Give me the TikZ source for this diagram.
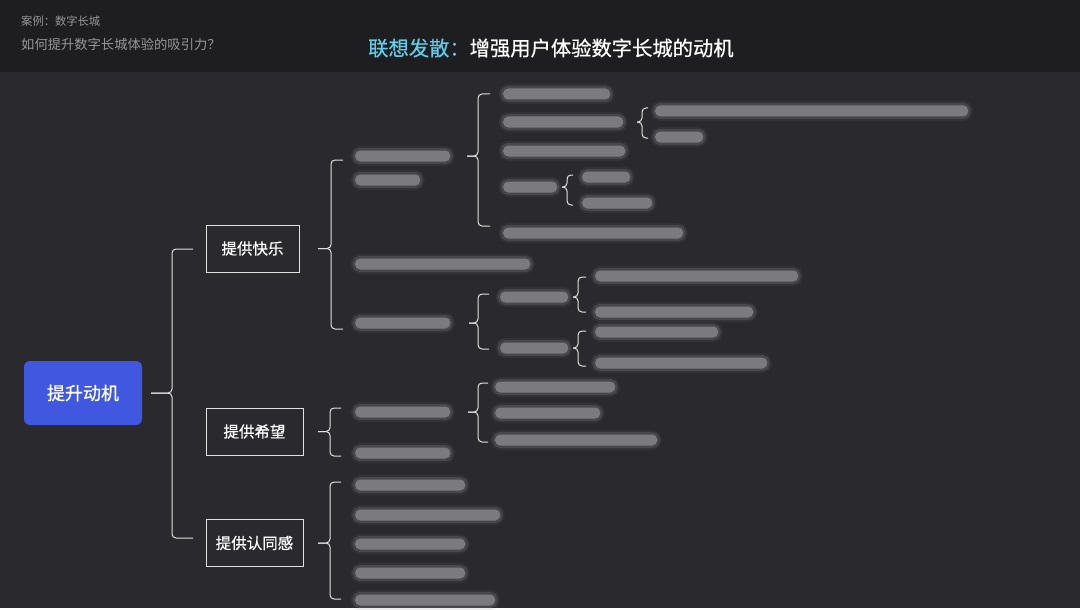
\documentclass[tikz,border=0pt]{standalone}
\usepackage{fontspec}
\setmainfont{Noto Sans CJK SC}
\newfontfamily\medfont[FakeBold=0.5]{Noto Sans CJK SC}
\usepackage{xcolor}
\usepackage{tikz}
\usetikzlibrary{calc}
\definecolor{pagebg}{RGB}{42, 42, 46}
\definecolor{headbg}{RGB}{30, 30, 33}
\definecolor{motivblue}{RGB}{64, 88, 224}
\definecolor{titlecyan}{RGB}{96, 204, 232}
\definecolor{blurgray}{RGB}{122, 122, 127}
\definecolor{subgray}{RGB}{150, 150, 152}

\tikzset{
    bracket/.style={draw=white!88!black, line width=1pt, rounded corners=4pt},
    branchbox/.style={draw=white!88!black, line width=1pt, text=white, minimum height=47pt,
        font=\medfont\fontsize{15.5}{18}\selectfont, inner sep=0pt},
    rootbox/.style={fill=motivblue, rounded corners=6pt, text=white, minimum width=118pt,
        minimum height=64pt, font=\medfont\fontsize{18}{22}\selectfont},
    blurbar/.style={fill=blurgray, rounded corners=5pt, minimum height=11pt, inner sep=0pt,
        anchor=west,
        preaction={draw=blurgray, draw opacity=0.12, line width=9pt, rounded corners=6pt},
        preaction={draw=blurgray, draw opacity=0.3, line width=5pt, rounded corners=6pt}}
}

% brace from a parent node: parent, tip x, bar x, top y, bottom y, right x
\newcommand{\mbrace}[6]{%
    \coordinate (bx) at (#2,0);
    \draw[bracket] (#6,#4) -- (#3,#4) |- (bx |- #1.east);
    \draw[bracket] (#6,#5) -- (#3,#5) |- (bx |- #1.east);
}

\begin{document}
\begin{tikzpicture}[x=1pt, y=-1pt]
    % Background and header band
    \fill[pagebg] (0,0) rectangle (1080,608);
    \fill[headbg] (0,0) rectangle (1080,72);

    % Header texts
    \node[anchor=west, text=subgray, font=\fontsize{11.3}{13}\selectfont, inner sep=0pt] (case) at (21,21) {案例：数字长城};
    \node[anchor=west, text=subgray, font=\fontsize{13.3}{16}\selectfont, inner sep=0pt] (question) at (21,44) {如何提升数字长城体验的吸引力？};
    \node[anchor=west, text=white, font=\medfont\fontsize{20.3}{24}\selectfont, inner sep=0pt] (title) at (368,48)
        {\textcolor{titlecyan}{联想发散：}增强用户体验数字长城的动机};

    % Root and first level
    \node[rootbox] (root) at (83,393) {提升动机};
    \node[branchbox, minimum width=93pt] (joy) at (252.5,248.5) {提供快乐};
    \node[branchbox, minimum width=97pt] (hope) at (254.5,431.5) {提供希望};
    \node[branchbox, minimum width=97pt] (ident) at (254.5,543) {提供认同感};
    \mbrace{root}{151}{172}{249}{538}{193}

    % Second level under joy
    \node[blurbar, minimum width=95pt] (k1) at (355,156) {};
    \node[blurbar, minimum width=65pt] (k1b) at (355,180) {};
    \node[blurbar, minimum width=175pt] (k2) at (355,264) {};
    \node[blurbar, minimum width=95pt] (k3) at (355,323) {};
    \mbrace{joy}{318}{331}{160}{329}{343}

    % Third level under k1
    \node[blurbar, minimum width=107pt] (a1) at (503,94) {};
    \node[blurbar, minimum width=120pt] (a2) at (503,122) {};
    \node[blurbar, minimum width=122pt] (a3) at (503,151) {};
    \node[blurbar, minimum width=54pt] (a4) at (503,187) {};
    \node[blurbar, minimum width=180pt] (a5) at (503,233) {};
    \mbrace{k1}{467}{478}{94}{226}{490}

    \node[blurbar, minimum width=313pt] (b1) at (655,111) {};
    \node[blurbar, minimum width=48pt] (b2) at (655,137) {};
    \mbrace{a2}{637}{642}{108}{138}{648}

    \node[blurbar, minimum width=48pt] (c1) at (582,177) {};
    \node[blurbar, minimum width=70pt] (c2) at (582,203) {};
    \mbrace{a4}{562}{567}{175}{205}{573}

    % Third level under k3
    \node[blurbar, minimum width=68pt] (d1) at (500,297) {};
    \node[blurbar, minimum width=68pt] (d2) at (500,348) {};
    \mbrace{k3}{469}{478}{294}{349}{489}

    \node[blurbar, minimum width=203pt] (e1) at (595,276) {};
    \node[blurbar, minimum width=158pt] (e2) at (595,312) {};
    \mbrace{d1}{573}{578}{277}{312}{586}

    \node[blurbar, minimum width=123pt] (f1) at (595,332) {};
    \node[blurbar, minimum width=172pt] (f2) at (595,363) {};
    \mbrace{d2}{573}{578}{331}{366}{586}

    % Under hope
    \node[blurbar, minimum width=95pt] (h1) at (355,412) {};
    \node[blurbar, minimum width=95pt] (h2) at (355,453) {};
    \mbrace{hope}{318}{330}{408}{456}{341}

    \node[blurbar, minimum width=120pt] (g1) at (495,387) {};
    \node[blurbar, minimum width=105pt] (g2) at (495,413) {};
    \node[blurbar, minimum width=162pt] (g3) at (495,440) {};
    \mbrace{h1}{468}{478}{383}{442}{488}

    % Under ident
    \node[blurbar, minimum width=110pt] (r1) at (355,485) {};
    \node[blurbar, minimum width=145pt] (r2) at (355,515) {};
    \node[blurbar, minimum width=110pt] (r3) at (355,544) {};
    \node[blurbar, minimum width=110pt] (r4) at (355,573) {};
    \node[blurbar, minimum width=140pt] (r5) at (355,600) {};
    \mbrace{ident}{318}{330}{482}{599}{341}

    \useasboundingbox (0,0) rectangle (1080,608);
\end{tikzpicture}
\end{document}
